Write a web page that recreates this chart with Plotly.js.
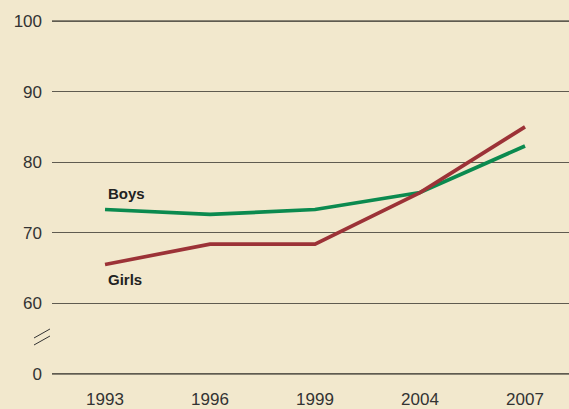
<!DOCTYPE html>
<html>
<head>
<meta charset="utf-8">
<script src="https://cdn.plot.ly/plotly-3.0.1.min.js"></script>
<style>
html,body{margin:0;padding:0;background:#f2e8cd;}
#chart{width:569px;height:409px;}
</style>
</head>
<body>
<div id="chart"></div>
<script>
// Data (axis break: value 0 is drawn at position 50)
const years = ['1993', '1996', '1999', '2004', '2007'];
const boys = [73.3, 72.6, 73.3, 75.7, 82.3];
const girls = [65.5, 68.4, 68.4, 75.7, 85.0];
const tickVals = [50, 60, 70, 80, 90, 100];
const tickText = ['0', '60', '70', '80', '90', '100'];
const seriesNames = ['Boys', 'Girls'];

const idx = years.map((_, i) => i);
const green = '#0b8a4f';
const red = '#9c3237';
const bg = '#f2e8cd';
const font = 'Liberation Sans, Arial, sans-serif';

const traces = [
  {x: idx, y: boys, name: seriesNames[0], mode: 'lines', line: {color: green, width: 3.7}},
  {x: idx, y: girls, name: seriesNames[1], mode: 'lines', line: {color: red, width: 3.7}}
];

const layout = {
  width: 569, height: 409,
  paper_bgcolor: bg, plot_bgcolor: bg,
  margin: {l: 52, r: 0, t: 14, b: 28},
  showlegend: false,
  font: {family: font, size: 17, color: '#333'},
  xaxis: {
    range: [-0.505, 4.419],
    tickvals: idx, ticktext: years,
    showgrid: false, zeroline: false, showline: false,
    ticks: '', ticklabelstandoff: 6,
    tickfont: {family: font, size: 17, color: '#333'}
  },
  yaxis: {
    range: [49, 101],
    tickvals: tickVals, ticktext: tickText,
    showgrid: true, gridcolor: '#5f5b50', gridwidth: 1,
    zeroline: false, showline: false,
    ticks: '', ticklabelstandoff: 9,
    tickfont: {family: font, size: 17, color: '#333'}
  },
  shapes: [
    {type: 'line', xref: 'paper', yref: 'y', x0: 0, x1: 1, y0: tickVals[0], y1: tickVals[0], line: {color: '#8a8474', width: 2}, layer: 'below'},
    {type: 'line', xref: 'paper', yref: 'y', x0: 0, x1: 1, y0: tickVals[5], y1: tickVals[5], line: {color: '#8a8474', width: 2}, layer: 'below'},
    {type: 'line', xref: 'paper', yref: 'paper', x0: -0.0348, y0: 0.0981, x1: -0.0039, y1: 0.1226, line: {color: '#333', width: 1}},
    {type: 'line', xref: 'paper', yref: 'paper', x0: -0.0348, y0: 0.1172, x1: -0.0039, y1: 0.1417, line: {color: '#333', width: 1}}
  ],
  annotations: [
    {x: 0, y: 75.6, xref: 'x', yref: 'y', text: '<b>' + seriesNames[0] + '</b>', showarrow: false, xanchor: 'left', xshift: 1, font: {family: font, size: 15, color: '#222'}},
    {x: 0, y: 63.45, xref: 'x', yref: 'y', text: '<b>' + seriesNames[1] + '</b>', showarrow: false, xanchor: 'left', xshift: 1, font: {family: font, size: 15, color: '#222'}}
  ]
};

Plotly.newPlot('chart', traces, layout, {staticPlot: true, displayModeBar: false});
</script>
</body>
</html>
